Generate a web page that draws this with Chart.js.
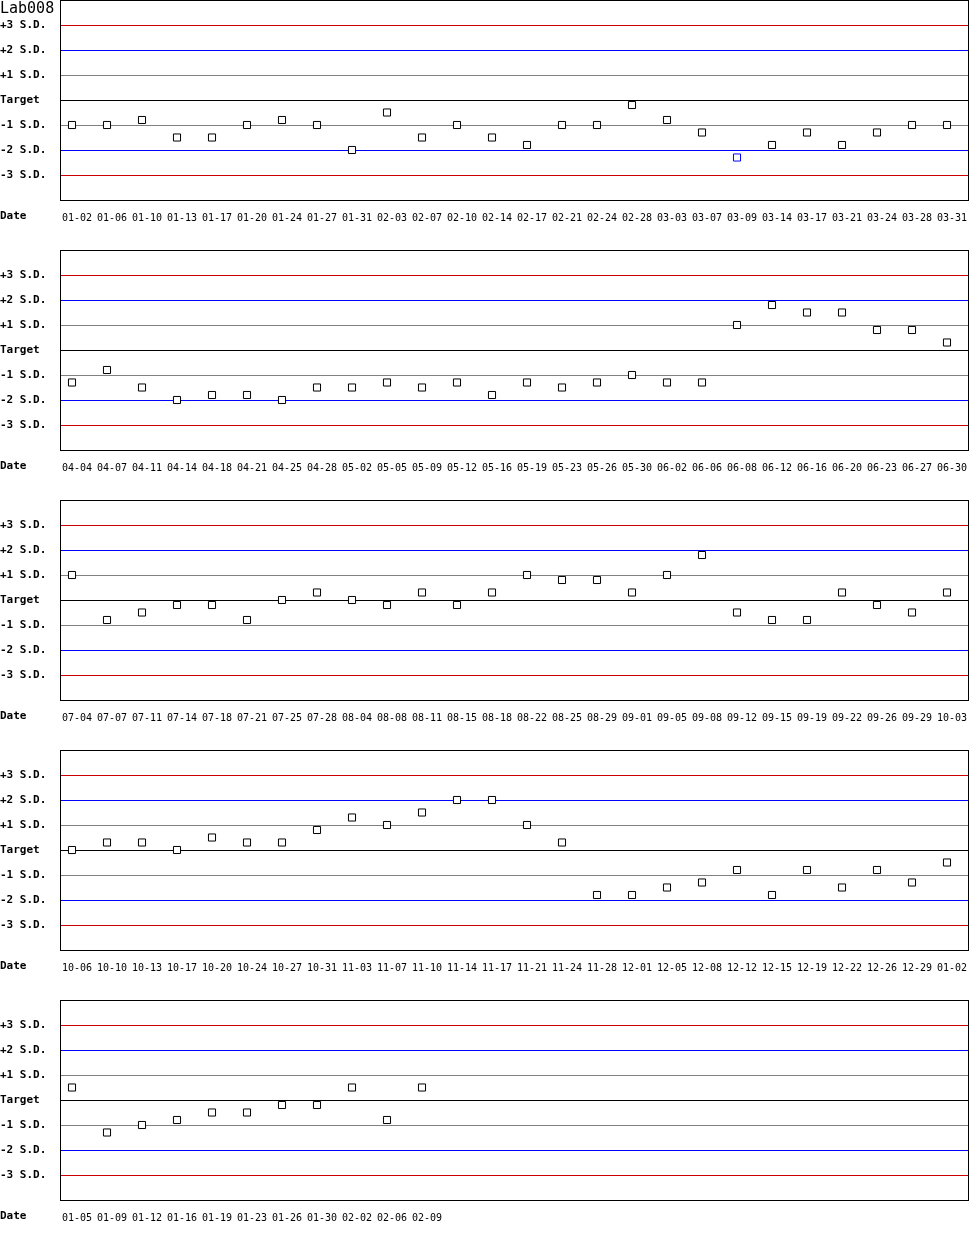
<!DOCTYPE html>
<html>
<head>
<meta charset="utf-8">
<title>Lab008</title>
<script src="https://cdn.jsdelivr.net/npm/chart.js@4/dist/chart.umd.min.js"></script>
<style>
    body { margin: 0; background: #fff; }
    .panel { position: absolute; left: 0; width: 970px; height: 250px; }
    .lab { position: absolute; left: 0; top: 1px; font: 15px "DejaVu Sans Mono", monospace; line-height: 15px; color: #000; z-index: 2; }
    .date { position: absolute; left: 0; font: bold 11px "DejaVu Sans Mono", monospace; line-height: 11px; color: #000; z-index: 2; }
</style>
</head>
<body>
<div class="lab">Lab008</div>
<div id="panels"></div>

<script>
// ==============================
// data (SD from target)
// ==============================
const sdLevels = [-3, -2, -1, 0, 1, 2, 3];
const sdLabels = ["-3 S.D.", "-2 S.D.", "-1 S.D.", "Target", "+1 S.D.", "+2 S.D.", "+3 S.D."];
const sdColors = ["#cc0000", "#0000ff", "#808080", "#000000", "#808080", "#0000ff", "#cc0000"];

const dates1 = ["01-02", "01-06", "01-10", "01-13", "01-17", "01-20", "01-24", "01-27", "01-31", "02-03", "02-07", "02-10", "02-14",
    "02-17", "02-21", "02-24", "02-28", "03-03", "03-07", "03-09", "03-14", "03-17", "03-21", "03-24", "03-28", "03-31"];
const sd1 = [-1, -1, -0.8, -1.5, -1.5, -1, -0.8, -1, -2, -0.5, -1.5, -1, -1.5,
    -1.8, -1, -1, -0.2, -0.8, -1.3, -2.3, -1.8, -1.3, -1.8, -1.3, -1, -1];

const dates2 = ["04-04", "04-07", "04-11", "04-14", "04-18", "04-21", "04-25", "04-28", "05-02", "05-05", "05-09", "05-12", "05-16",
    "05-19", "05-23", "05-26", "05-30", "06-02", "06-06", "06-08", "06-12", "06-16", "06-20", "06-23", "06-27", "06-30"];
const sd2 = [-1.3, -0.8, -1.5, -2, -1.8, -1.8, -2, -1.5, -1.5, -1.3, -1.5, -1.3, -1.8,
    -1.3, -1.5, -1.3, -1, -1.3, -1.3, 1, 1.8, 1.5, 1.5, 0.8, 0.8, 0.3];

const dates3 = ["07-04", "07-07", "07-11", "07-14", "07-18", "07-21", "07-25", "07-28", "08-04", "08-08", "08-11", "08-15", "08-18",
    "08-22", "08-25", "08-29", "09-01", "09-05", "09-08", "09-12", "09-15", "09-19", "09-22", "09-26", "09-29", "10-03"];
const sd3 = [1, -0.8, -0.5, -0.2, -0.2, -0.8, 0, 0.3, 0, -0.2, 0.3, -0.2, 0.3,
    1, 0.8, 0.8, 0.3, 1, 1.8, -0.5, -0.8, -0.8, 0.3, -0.2, -0.5, 0.3];

const dates4 = ["10-06", "10-10", "10-13", "10-17", "10-20", "10-24", "10-27", "10-31", "11-03", "11-07", "11-10", "11-14", "11-17",
    "11-21", "11-24", "11-28", "12-01", "12-05", "12-08", "12-12", "12-15", "12-19", "12-22", "12-26", "12-29", "01-02"];
const sd4 = [0, 0.3, 0.3, 0, 0.5, 0.3, 0.3, 0.8, 1.3, 1, 1.5, 2, 2,
    1, 0.3, -1.8, -1.8, -1.5, -1.3, -0.8, -1.8, -0.8, -1.5, -0.8, -1.3, -0.5];

const dates5 = ["01-05", "01-09", "01-12", "01-16", "01-19", "01-23", "01-26", "01-30", "02-02", "02-06", "02-09"];
const sd5 = [0.5, -1.3, -1, -0.8, -0.5, -0.5, -0.2, -0.2, 0.5, -0.8, 0.5];

const panels = [
    [dates1, sd1],
    [dates2, sd2],
    [dates3, sd3],
    [dates4, sd4],
    [dates5, sd5],
];

// 26 slots per row, same spacing on the short last row
const X_MIN = -12 / 35;
const X_MAX = X_MIN + 908 / 35;

function markColor(v) {
    const a = Math.abs(v);
    if (a > 3) return "#cc0000";
    if (a > 2) return "#0000ff";
    return "#000000";
}

function noPad(s) {
    s.paddingTop = 0;
    s.paddingBottom = 0;
    s.paddingLeft = 0;
    s.paddingRight = 0;
}

// control lines at each S.D. level + box round the plot area
const sdLines = {
    id: "sdLines",
    beforeDatasetsDraw(chart) {
        const { left, right } = chart.chartArea;
        const y = chart.scales.y;
        const ctx = chart.ctx;
        ctx.save();
        ctx.lineWidth = 1;
        sdLevels.forEach((v, i) => {
            const py = Math.round(y.getPixelForValue(v)) + 0.5;
            ctx.strokeStyle = sdColors[i];
            ctx.beginPath();
            ctx.moveTo(left, py);
            ctx.lineTo(right, py);
            ctx.stroke();
        });
        ctx.restore();
    },
    afterDraw(chart) {
        const { left, top, right, bottom } = chart.chartArea;
        const ctx = chart.ctx;
        ctx.save();
        ctx.strokeStyle = "#000";
        ctx.lineWidth = 1;
        const l = Math.round(left) + 0.5;
        const t = Math.round(top) + 0.5;
        const r = Math.round(right) + 0.5;
        const b = Math.round(bottom) + 0.5;
        ctx.strokeRect(l, t, r - l, b - t);
        ctx.restore();
    },
};

const holder = document.getElementById("panels");

panels.forEach(([dates, values], p) => {
    const div = document.createElement("div");
    div.className = "panel";
    div.style.top = p * 250 + "px";
    const canvas = document.createElement("canvas");
    canvas.width = 970;
    canvas.height = 250;
    div.appendChild(canvas);
    holder.appendChild(div);

    const dateLbl = document.createElement("div");
    dateLbl.className = "date";
    dateLbl.style.top = p * 250 + 210 + "px";
    dateLbl.textContent = "Date";
    document.body.appendChild(dateLbl);

    new Chart(canvas, {
        type: "scatter",
        data: {
            datasets: [
                {
                    data: values.map((v, i) => ({ x: i, y: v })),
                    showLine: false,
                    pointStyle: "rect",
                    pointRadius: 5,
                    pointHoverRadius: 5,
                    pointBorderWidth: 1,
                    pointBackgroundColor: "#fff",
                    pointBorderColor: values.map(markColor),
                },
            ],
        },
        options: {
            responsive: false,
            animation: false,
            devicePixelRatio: 1,
            events: [],
            layout: { autoPadding: false, padding: { top: 0, right: 2, left: 0, bottom: 0 } },
            plugins: {
                legend: { display: false },
                tooltip: { enabled: false },
            },
            scales: {
                x: {
                    type: "linear",
                    min: X_MIN,
                    max: X_MAX,
                    afterBuildTicks: (s) => {
                        s.ticks = dates.map((d, i) => ({ value: i }));
                    },
                    afterFit: (s) => {
                        s.height = 50;
                        noPad(s);
                    },
                    grid: { display: false },
                    border: { color: "#000" },
                    ticks: {
                        autoSkip: false,
                        maxRotation: 0,
                        color: "#000",
                        padding: 4,
                        labelOffset: 5,
                        font: { family: "DejaVu Sans Mono", size: 10 },
                        callback: (v) => dates[v],
                    },
                },
                y: {
                    min: -4,
                    max: 4,
                    afterBuildTicks: (s) => {
                        s.ticks = sdLevels.map((v) => ({ value: v }));
                    },
                    afterFit: (s) => {
                        s.width = 60;
                        noPad(s);
                    },
                    grid: { display: false },
                    border: { color: "#000" },
                    ticks: {
                        autoSkip: false,
                        crossAlign: "far",
                        color: "#000",
                        font: { family: "DejaVu Sans Mono", size: 11, weight: "bold" },
                        callback: (v, i) => sdLabels[i],
                    },
                },
            },
        },
        plugins: [sdLines],
    });
});
</script>
</body>
</html>
